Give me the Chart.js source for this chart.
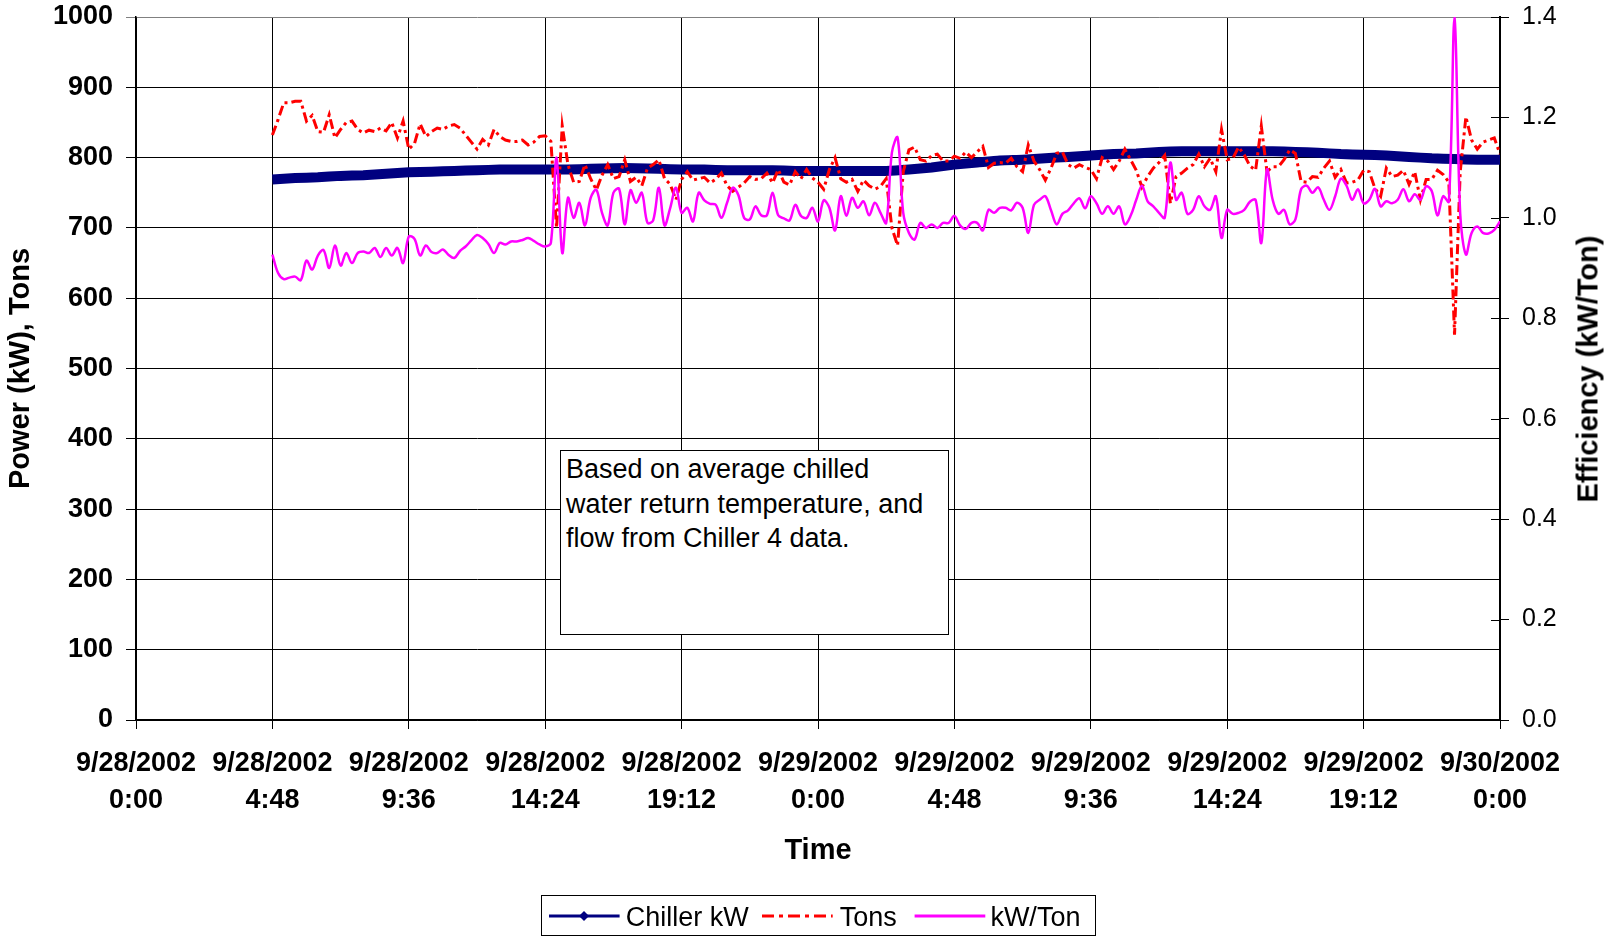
<!DOCTYPE html>
<html>
<head>
<meta charset="utf-8">
<script src="https://cdn.jsdelivr.net/npm/chart.js@4.4.1/dist/chart.umd.min.js"></script>
<style>
  html, body { margin: 0; padding: 0; background: #fff; }
  #wrap { position: relative; width: 1606px; height: 937px; overflow: hidden; background: #fff; }
  #c { position: absolute; left: 0; top: 0; }
  .note { position: absolute; left: 560px; top: 450px; width: 389px; height: 185px; box-sizing: border-box;
          border: 1.5px solid #000; background: #fff; color: #000;
          font: 27px "Liberation Sans", Arial, sans-serif; line-height: 34.5px; padding: 1px 0 0 5px; }
  .rtitle { position: absolute; left: 1588px; top: 369px; transform: translate(-50%, -50%) rotate(-90deg);
            font: bold 29px "Liberation Sans", Arial, sans-serif; line-height: 1; white-space: nowrap; color: #000; }
  #legend { position: absolute; left: 541px; top: 895px; width: 555px; height: 41px; box-sizing: border-box;
            border: 1px solid #000; background: #fff; }
  #legend svg { position: absolute; left: -1px; top: -1px; }
  #legend span { position: absolute; top: 2px; height: 39px; white-space: nowrap;
                 font: 27px "Liberation Sans", Arial, sans-serif; line-height: 39px; color: #000; }
</style>
</head>
<body>
<div id="wrap">
  <canvas id="c" width="1606" height="937"></canvas>
  <div class="note">Based on average chilled<br>water return temperature, and<br>flow from Chiller 4 data.</div>
  <div class="rtitle">Efficiency (kW/Ton)</div>
  <div id="legend">
    <svg width="555" height="41">
      <line x1="8" y1="21" x2="78.6" y2="21" stroke="#000080" stroke-width="3"/>
      <polygon points="43,16 48,21 43,26 38,21" fill="#000080"/>
      <line x1="221" y1="21" x2="291.7" y2="21" stroke="#FF0000" stroke-width="3" stroke-dasharray="12 5 4 5"/>
      <line x1="373.6" y1="21" x2="444.3" y2="21" stroke="#FF00FF" stroke-width="3"/>
    </svg>
    <span style="left:83.8px">Chiller kW</span>
    <span style="left:297.8px">Tons</span>
    <span style="left:448.4px">kW/Ton</span>
  </div>
</div>
<script>
// ---- time axis (hours since 9/28/2002 0:00) ----
const tickHours = [0, 4.8, 9.6, 14.4, 19.2, 24, 28.8, 33.6, 38.4, 43.2, 48];
const tickLabels = [
  ["9/28/2002", "0:00"], ["9/28/2002", "4:48"], ["9/28/2002", "9:36"], ["9/28/2002", "14:24"],
  ["9/28/2002", "19:12"], ["9/29/2002", "0:00"], ["9/29/2002", "4:48"], ["9/29/2002", "9:36"],
  ["9/29/2002", "14:24"], ["9/29/2002", "19:12"], ["9/30/2002", "0:00"]
];

// Samples every 0.2 h starting at 4.8 h (Tons and kW/Ton)
const SAMPLE_START = 4.8;
const SAMPLE_STEP = 0.2;
// Chiller kW sampled every 0.8 h starting at 4.8 h
const KW_STEP = 0.8;

const chillerKW = [
  769, 771, 772, 774, 775, 777, 779, 780, 781, 782, 783, 783, 783, 783, 784, 785, 785, 784, 783,
  783, 782, 782, 782, 781, 781, 781, 781, 781, 783, 786, 790, 793, 796, 797, 799, 801, 803, 805,
  806, 808, 809, 809, 809, 809, 809, 808, 807, 805, 804, 803, 801, 799, 798, 797, 797
];

const tons = [
  832, 854, 878, 878, 880, 880, 852, 860, 837, 836, 861, 828, 840, 850, 852, 840, 835, 839, 837, 842,
  838, 850, 828, 852, 812,
  820, 848, 830, 837, 842, 840, 845, 847, 842, 832, 822, 812, 826, 818, 840, 830, 825, 823,
  823, 825, 818, 822, 830, 831, 823, 700, 845, 790, 765, 766, 790, 770, 754, 775, 790, 770, 773, 797,
  766, 772, 760, 785, 790, 797, 770, 762, 740, 769, 780, 768, 770, 772, 764, 769, 778, 760, 752, 758,
  764, 773, 769,
  770, 778, 764, 783, 765, 761, 780, 770, 783, 771, 765, 755, 783, 800, 770, 765, 769, 752, 768, 760,
  755, 759, 770, 700, 675, 780, 811, 815, 797, 795, 803, 805, 795, 795, 802, 799, 808, 800, 808, 816,
  786, 792, 793,
  792, 799, 787, 780, 818, 795, 783, 768, 785, 806, 808, 790, 785, 790, 786, 783, 770, 800, 795, 783,
  795, 812, 797, 782, 758, 773, 785, 793, 803, 735, 773, 778, 785, 790, 805, 787, 799, 780, 840, 797,
  799, 815, 804,
  788, 782, 845, 780, 787, 787, 797, 811, 806, 766, 765, 773, 772, 785, 795, 772, 783, 764, 765, 768,
  782, 780, 756, 745, 785, 773, 775, 782, 762, 780, 740, 769, 769, 782, 776, 765, 548, 780, 858, 825,
  812, 822, 825, 828, 805
];

const kwPerTon = [
  0.927, 0.890, 0.878, 0.881, 0.883, 0.876, 0.915, 0.897, 0.925, 0.936, 0.900, 0.945, 0.905, 0.930,
  0.910, 0.930, 0.933, 0.930, 0.940, 0.922, 0.940, 0.925, 0.940, 0.910, 0.963,
  0.958, 0.925, 0.945, 0.932, 0.930, 0.937, 0.926, 0.920, 0.934, 0.943, 0.955, 0.966, 0.960, 0.948,
  0.930, 0.950, 0.947, 0.953,
  0.953, 0.956, 0.960, 0.954, 0.947, 0.943, 0.950, 1.120, 0.930, 1.040, 1.000, 1.030, 0.985, 1.040,
  1.056, 1.010, 0.985, 1.050, 1.058, 0.987, 1.055, 1.030, 1.050, 0.990, 0.995, 1.060, 0.985, 1.020,
  1.060, 1.010, 1.020, 0.993, 1.050, 1.035, 1.028, 1.026, 1.000, 1.030, 1.060, 1.045, 1.000, 0.997,
  1.023,
  1.005, 1.005, 1.050, 1.005, 0.999, 0.995, 1.026, 1.004, 1.000, 1.020, 0.993, 1.035, 1.020, 0.975,
  1.043, 1.004, 1.040, 1.020, 1.033, 1.005, 1.030, 1.010, 0.990, 1.130, 1.160, 1.010, 0.970, 0.957,
  0.990, 0.980, 0.987, 0.980, 0.990, 0.990, 1.004, 0.985, 0.978, 0.990, 0.990, 0.975, 1.016, 1.010,
  1.020,
  1.020, 1.015, 1.030, 1.020, 0.970, 1.026, 1.036, 1.043, 1.015, 0.987, 1.008, 1.015, 1.029, 1.039,
  1.019, 1.043, 1.029, 1.008, 1.023, 1.008, 1.023, 0.987, 1.004, 1.036, 1.064, 1.033, 1.023, 1.010,
  1.000, 1.110, 1.036, 1.050, 1.008, 1.016, 1.043, 1.023, 1.016, 1.043, 0.960, 1.016, 1.008, 1.010,
  1.016,
  1.032, 1.036, 0.950, 1.096, 1.036, 1.008, 1.016, 0.987, 0.997, 1.057, 1.064, 1.050, 1.061, 1.036,
  1.016, 1.043, 1.078, 1.064, 1.036, 1.057, 1.029, 1.036, 1.058, 1.023, 1.033, 1.029, 1.036, 1.057,
  1.033, 1.047, 1.036, 1.063, 1.053, 1.005, 1.043, 1.032, 1.400, 1.008, 0.927, 0.970, 0.983, 0.970,
  0.969, 0.976, 0.993
];

const FONT = '"Liberation Sans", Arial, sans-serif';

const toPoints = (arr, start, step) =>
  arr.map((v, i) => ({ x: Math.round((start + i * step) * 1000) / 1000, y: v }));

const rightInwardTicks = {
  id: 'rightInwardTicks',
  beforeDatasetsDraw(chart) {
    const s = chart.scales.y1;
    const c = chart.ctx;
    c.save();
    c.strokeStyle = '#000';
    c.lineWidth = 1;
    s.ticks.forEach(t => {
      const y = Math.round(s.getPixelForValue(t.value)) + 0.5;
      c.beginPath();
      c.moveTo(s.left - 9, y);
      c.lineTo(s.left, y);
      c.stroke();
    });
    c.restore();
  }
};

const noVPad = s => { s.paddingTop = 0; s.paddingBottom = 0; };

new Chart(document.getElementById('c'), {
  type: 'line',
  data: {
    datasets: [
      {
        label: 'Chiller kW',
        data: toPoints(chillerKW, SAMPLE_START, KW_STEP),
        yAxisID: 'y',
        borderColor: '#000080',
        backgroundColor: '#000080',
        borderWidth: 10,
        pointRadius: 0,
        tension: 0.2,
        order: 3
      },
      {
        label: 'Tons',
        data: toPoints(tons, SAMPLE_START, SAMPLE_STEP),
        yAxisID: 'y',
        borderColor: '#FF0000',
        backgroundColor: '#FF0000',
        borderWidth: 3,
        borderDash: [10, 4, 3, 4],
        pointRadius: 0,
        tension: 0,
        order: 2
      },
      {
        label: 'kW/Ton',
        data: toPoints(kwPerTon, SAMPLE_START, SAMPLE_STEP),
        yAxisID: 'y1',
        borderColor: '#FF00FF',
        backgroundColor: '#FF00FF',
        borderWidth: 2.5,
        pointRadius: 0,
        tension: 0.35,
        order: 1
      }
    ]
  },
  options: {
    responsive: false,
    animation: false,
    devicePixelRatio: 1,
    layout: { padding: { top: 17, left: 0, right: 0, bottom: 0 } },
    plugins: { legend: { display: false }, tooltip: { enabled: false } },
    scales: {
      x: {
        type: 'linear',
        position: 'bottom',
        min: 0,
        max: 48,
        afterFit: s => { s.height = 217; s.paddingLeft = 0; s.paddingRight = 0; },
        afterBuildTicks: s => { s.ticks = tickHours.map(v => ({ value: v })); },
        ticks: {
          autoSkip: false,
          maxRotation: 0,
          padding: 16,
          color: '#000',
          font: { family: FONT, size: 27, weight: 'bold', lineHeight: 1.37 },
          callback: (v, i) => tickLabels[i]
        },
        grid: { color: '#000', lineWidth: 1, tickLength: 9 },
        border: { color: '#000', width: 1.5 },
        title: {
          display: true, text: 'Time', color: '#000',
          font: { family: FONT, size: 29, weight: 'bold' },
          padding: { top: 0, bottom: 69 }
        }
      },
      y: {
        position: 'left',
        min: 0,
        max: 1000,
        afterFit: s => { s.width = 136; noVPad(s); },
        ticks: {
          stepSize: 100,
          padding: 13,
          color: '#000',
          font: { family: FONT, size: 27, weight: 'bold' },
          callback: v => String(v)
        },
        grid: {
          color: ctx => (ctx.tick && ctx.tick.value === 1000 ? '#808080' : '#000'),
          lineWidth: 1,
          tickLength: 10
        },
        border: { color: '#000', width: 1.5 },
        title: {
          display: true, text: 'Power (kW), Tons', color: '#000',
          font: { family: FONT, size: 29, weight: 'bold' },
          padding: { top: 4, bottom: 0 }
        }
      },
      y1: {
        position: 'right',
        min: 0,
        max: 1.4,
        afterFit: s => { s.width = 106; noVPad(s); },
        ticks: {
          stepSize: 0.2,
          padding: 13,
          color: '#000',
          font: { family: FONT, size: 25 },
          callback: v => Number(v).toFixed(1)
        },
        grid: { drawOnChartArea: false, color: '#000', lineWidth: 1, tickLength: 9 },
        border: { color: '#000', width: 2 }
      }
    }
  },
  plugins: [rightInwardTicks]
});
</script>
</body>
</html>
